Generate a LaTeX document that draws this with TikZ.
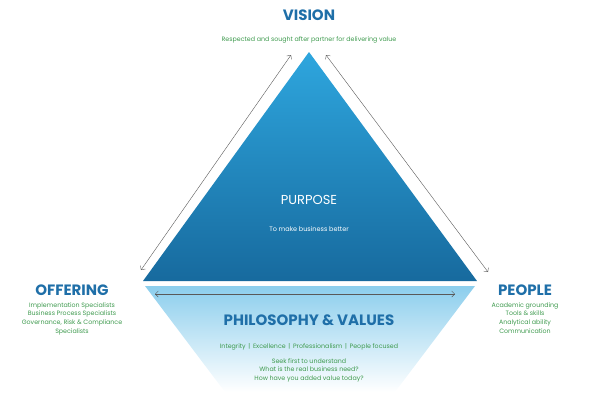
\documentclass[tikz,border=0pt]{standalone}
\usepackage{fontspec}
\setmainfont{Poppins}
\usetikzlibrary{positioning,arrows.meta}
\definecolor{headblue}{HTML}{1F6FA8}
\definecolor{textgreen}{HTML}{3E9A4E}
\definecolor{trilight}{HTML}{2EA6DE}
\definecolor{tridark}{HTML}{176A9E}
\tikzset{
  heading/.style={text=headblue,font=\fontsize{15}{15}\selectfont\bfseries},
  detail/.style={text=textgreen,font=\fontsize{6.3}{8.6}\selectfont,align=center},
  link/.style={gray!70!black,line width=0.4pt,{Straight Barb[length=3pt]}-{Straight Barb[length=3pt]}}
}
\begin{document}
\begin{tikzpicture}[
  x={(1pt,0pt)},
  y={(0pt,-1pt)}
]
\useasboundingbox (0,0) rectangle (600,400);

% reflection
\shade[top color=trilight!55!white,bottom color=white]
(145,286) -- (475,286) -- (395,392) -- (225,392) -- cycle;
% triangle
\shade[top color=trilight,bottom color=tridark]
(309,52) -- (477,281) -- (143,281) -- cycle;

\node[heading] (vision) at (309,15) {VISION};
\node[detail] (visiontext) at (309,40) {Respected and sought after partner for delivering value};

\node[text=white,font=\fontsize{13}{13}\selectfont] (purpose) at (309,200) {PURPOSE};
\node[text=white,font=\fontsize{6.5}{8}\selectfont] (purposetext) at (309,229) {To make business better};

\node[heading] (offering) at (72,290) {OFFERING};
\node[detail,below=0pt of offering] (offeringtext)
  {Implementation Specialists\\Business Process Specialists\\Governance, Risk \& Compliance\\Specialists};

\node[heading] (people) at (525,290) {PEOPLE};
\node[detail,below=0pt of people] (peopletext)
  {Academic grounding\\Tools \& skills\\Analytical ability\\Communication};

\node[heading] (values) at (309,320) {PHILOSOPHY \& VALUES};
\node[detail] (valuestext) at (309,347) {Integrity \,|\, Excellence \,|\, Professionalism \,|\, People focused};
\node[detail,below=1pt of valuestext] (questions)
  {Seek first to understand\\What is the real business need?\\How have you added value today?};

\coordinate (leftlow) at (141,270);
\coordinate (lefttop) at (291,55);
\coordinate (righttop) at (326,55);
\coordinate (rightlow) at (488,272);
\coordinate (baseleft) at (155,294);
\coordinate (baseright) at (455,294);
\draw[link] (leftlow) -- (lefttop);
\draw[link] (righttop) -- (rightlow);
\draw[link] (baseleft) -- (baseright);
\end{tikzpicture}
\end{document}
